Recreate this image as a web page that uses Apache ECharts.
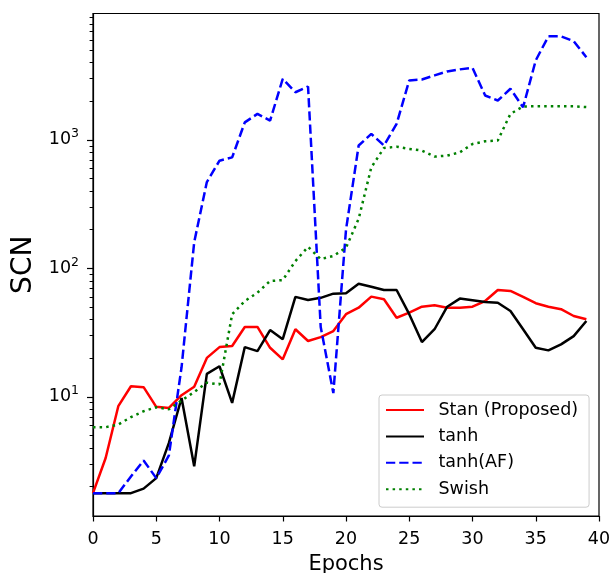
<!DOCTYPE html>
<html>
<head>
<meta charset="utf-8">
<script src="https://cdn.jsdelivr.net/npm/echarts@6/dist/echarts.min.js"></script>
<style>
html,body{margin:0;padding:0;background:#fff;}
#c{width:610px;height:573px;}
</style>
</head>
<body>
<div id="c"></div>
<script>
var epochs = [0,1,2,3,4,5,6,7,8,9,10,11,12,13,14,15,16,17,18,19,20,21,22,23,24,25,26,27,28,29,30,31,32,33,34,35,36,37,38,39];
var stan = [1.78,3.34,8.46,12.1,11.9,8.36,8.2,10.3,12.0,20.1,24.4,24.9,35.0,35.0,24.1,19.6,33.6,27.2,29.2,32.5,44,49.4,60.3,57.5,41.3,45.2,50.3,51.6,49.4,49.4,50.3,55.7,67.9,66.8,60,53.6,50.3,48.1,42.6,40.2];
var tanh = [1.78,1.78,1.78,1.78,1.93,2.33,4.38,9.8,2.88,15.1,17.3,8.98,24.4,22.7,33.1,28.1,60,56.8,59,63.6,64,76,72,67.9,67.9,44,26.7,33.6,50.3,58.2,56.5,54.8,54,46.6,33.6,24.1,23,25.6,29.7,38.9];
var tanhAF = [1.78,1.78,1.78,2.4,3.2,2.33,3.5,17,160,470,689,731,1370,1595,1413,2990,2350,2604,35,10.7,200,904,1114,904,1333,2904,2950,3177,3414,3540,3640,2218,2027,2500,1795,4160,6400,6400,5870,4400];
var swish = [5.8,5.8,6.1,6.95,7.73,8.3,8.0,9.37,10.9,12.9,12.5,44,55.7,64.7,79.8,81,114,147,118,125,145,243,611,865,886,851,826,742,755,800,930,975,990,1595,1820,1830,1830,1830,1830,1800];
var seriesNames = ['Stan (Proposed)','tanh','tanh(AF)','Swish'];
var xTicks = [0,5,10,15,20,25,30,35,40];
var yMajor = [10,100,1000];
var yMinor = [2,3,4,5,6,7,8,9,20,30,40,50,60,70,80,90,200,300,400,500,600,700,800,900,2000,3000,4000,5000,6000,7000,8000,9000];

function pairs(arr){ return epochs.map(function(e,i){ return [e, arr[i]]; }); }

var allVals = stan.concat(tanh, tanhAF, swish);
var lmin = Math.log10(Math.min.apply(null, allVals));
var lmax = Math.log10(Math.max.apply(null, allVals));
var pad = 0.05 * (lmax - lmin);
var yMin = Math.pow(10, lmin - pad);
var yMax = Math.pow(10, lmax + pad);

var FONT = 'DejaVu Sans';
var chart = echarts.init(document.getElementById('c'), null, {renderer:'canvas'});
var lw = 2.5;
var option = {
  animation: false,
  backgroundColor: '#ffffff',
  grid: {left: 93, right: 11, top: 13.5, bottom: 57, containLabel: false, outerBoundsMode: 'none',
         show: true, borderColor: '#000', borderWidth: 1.2, backgroundColor: 'transparent'},
  legend: {
    orient: 'vertical', left: 379, top: 395,
    data: seriesNames,
    itemWidth: 38, itemHeight: 14, itemGap: 6.4,
    padding: [5, 11, 8, 6],
    backgroundColor: 'rgba(255,255,255,0.8)',
    borderColor: '#cccccc', borderWidth: 1, borderRadius: 3,
    itemStyle: {opacity: 0},
    textStyle: {fontFamily: FONT, fontSize: 17.5, color: '#000', lineHeight: 20, padding: [0,0,0,9.5]}
  },
  xAxis: {
    type: 'value', min: xTicks[0], max: xTicks[xTicks.length-1], interval: 5,
    name: 'Epochs', nameLocation: 'middle', nameGap: 38,
    nameTextStyle: {fontFamily: FONT, fontSize: 21, color: '#000'},
    axisLine: {show: true, lineStyle: {color: '#000', width: 1.2}},
    axisTick: {show: true, length: 5.5, lineStyle: {color: '#000', width: 1.2}},
    axisLabel: {fontFamily: FONT, fontSize: 17.5, color: '#000', margin: 14},
    splitLine: {show: false}
  },
  yAxis: [{
    type: 'log', logBase: 10, min: yMin, max: yMax,
    name: 'SCN', nameLocation: 'middle', nameGap: 47, nameRotate: 90,
    nameTextStyle: {fontFamily: FONT, fontSize: 28, color: '#000'},
    axisLine: {show: true, lineStyle: {color: '#000', width: 1.2}},
    axisTick: {show: true, length: 6, customValues: yMajor, lineStyle: {color: '#000', width: 1.2}},
    axisLabel: {
      customValues: yMajor, margin: 14,
      formatter: function(v){ var e = Math.round(Math.log10(v)); return '{b|10}{s|' + e + '}'; },
      rich: {
        b: {fontFamily: FONT, fontSize: 17.5, color: '#000', lineHeight: 25},
        s: {fontFamily: FONT, fontSize: 12.5, color: '#000', lineHeight: 12, verticalAlign: 'top'}
      }
    },
    splitLine: {show: false}
  }, {
    type: 'log', logBase: 10, min: yMin, max: yMax, position: 'left',
    axisLine: {show: false},
    axisTick: {show: true, length: 3.4, customValues: yMinor, lineStyle: {color: '#000', width: 1}},
    axisLabel: {show: false},
    splitLine: {show: false}
  }],
  series: [
    {name: seriesNames[0], type: 'line', data: pairs(stan), symbol: 'none', lineStyle: {color: '#ff0000', width: lw}, itemStyle: {color: '#ff0000'}, z: 2},
    {name: seriesNames[1], type: 'line', data: pairs(tanh), symbol: 'none', lineStyle: {color: '#000000', width: lw}, itemStyle: {color: '#000000'}, z: 3},
    {name: seriesNames[2], type: 'line', data: pairs(tanhAF), symbol: 'none', lineStyle: {color: '#0000ff', width: lw, type: [9.25, 4]}, itemStyle: {color: '#0000ff'}, z: 4},
    {name: seriesNames[3], type: 'line', data: pairs(swish), symbol: 'none', lineStyle: {color: '#008000', width: lw, type: [2.5, 4.1]}, itemStyle: {color: '#008000'}, z: 5}
  ]
};
chart.setOption(option);
</script>
</body>
</html>
